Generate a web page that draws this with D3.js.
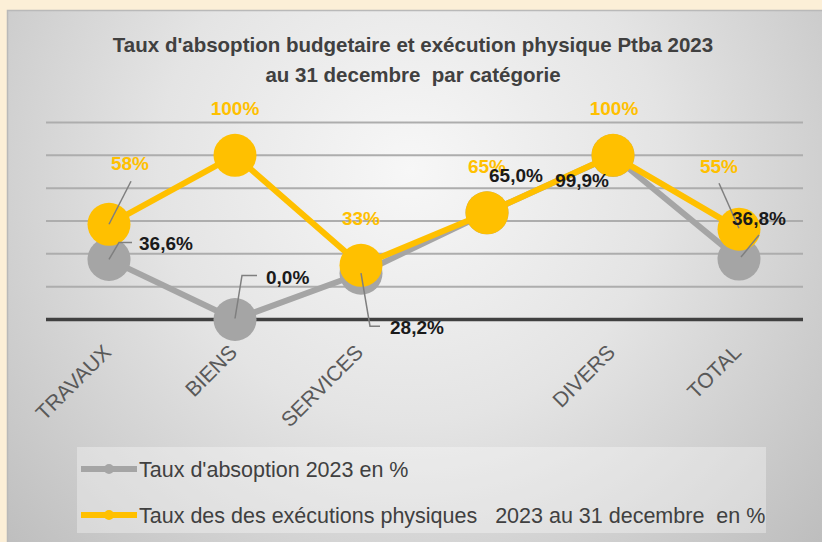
<!DOCTYPE html>
<html>
<head>
<meta charset="utf-8">
<script src="https://cdn.jsdelivr.net/npm/d3@7.9.0/dist/d3.min.js"></script>
<style>
  html, body { margin: 0; padding: 0; background: #fcefd7; overflow: hidden; }
  svg { display: block; }
  text { font-family: "Liberation Sans", Arial, sans-serif; }
</style>
</head>
<body>
<svg id="chart" width="822" height="542"></svg>
<script>
const categories = ['TRAVAUX', 'BIENS', 'SERVICES', '', 'DIVERS', 'TOTAL'];
const absorption = [36.6, 0.0, 28.2, 65.0, 99.9, 36.8];
const execution = [58, 100, 33, 65, 100, 55];
const absorptionLabels = ['36,6%', '0,0%', '28,2%', '65,0%', '99,9%', '36,8%'];
const executionLabels = ['58%', '100%', '33%', '65%', '100%', '55%'];
const yTicks = [0, 20, 40, 60, 80, 100, 120];
const seriesNames = [
  "Taux d'absoption 2023 en %",
  'Taux des des exécutions physiques   2023 au 31 decembre  en %'
];
const titleLines = [
  "Taux d'absoption budgetaire et exécution physique Ptba 2023",
  'au 31 decembre  par catégorie'
];

// where each data label sits relative to its point (Excel moved some by hand)
const execLabelPos = [[21, -54], [0, -40], [0, -40], [0, -40], [1, -40], [-20, -56]];
const execLeaders = [[[0, 0], [22, -43]], null, null, null, null, [[-20, -46], [0, -1]]];
const absLabelPos = [[30, -9, 'start'], [31, -36, 'start'], [29, 61, 'start'], [2, -31, 'start'], [-4, 32, 'end'], [-7, -34, 'start']];
const absLeaders = [
  [[0, 0], [10, -17], [23, -17]],
  [[0, -1], [7, -44], [22, -44]],
  [[0, 0], [9, 53], [19, 53]],
  null,
  null,
  [[2, -2], [20, -24]]
];

const grey = '#a5a5a5';
const gold = '#ffc000';

const svg = d3.select('#chart');

// panel background
const defs = svg.append('defs');
const grad = defs.append('radialGradient')
  .attr('id', 'panelGrad')
  .attr('gradientUnits', 'userSpaceOnUse')
  .attr('cx', 410).attr('cy', 170).attr('r', 560);
grad.append('stop').attr('offset', '0%').attr('stop-color', '#f7f7f7');
grad.append('stop').attr('offset', '45%').attr('stop-color', '#e4e4e4');
grad.append('stop').attr('offset', '100%').attr('stop-color', '#bdbdbd');

svg.append('rect')
  .attr('x', 7).attr('y', 10)
  .attr('width', 822).attr('height', 540)
  .attr('fill', 'url(#panelGrad)');
svg.append('path')
  .attr('d', 'M7.5,542V10.5H822')
  .attr('fill', 'none')
  .attr('stroke', '#b9b9b9')
  .attr('stroke-width', 1.5);

// title
svg.append('text')
  .attr('x', 413).attr('y', 52)
  .attr('text-anchor', 'middle')
  .attr('font-size', 20.5).attr('font-weight', 'bold')
  .attr('fill', '#404040')
  .selectAll('tspan')
  .data(titleLines)
  .join('tspan')
  .attr('x', 413)
  .attr('dy', (d, i) => (i === 0 ? 0 : 30))
  .style('white-space', 'pre')
  .text((d) => d);

const x = d3.scalePoint().domain(categories).range([46, 802]).padding(0.5);
const y = d3.scaleLinear().domain([0, 120]).range([319.5, 122.5]);

// gridlines
svg.append('g')
  .selectAll('line')
  .data(yTicks.filter((t) => t > 0))
  .join('line')
  .attr('x1', 46).attr('x2', 803)
  .attr('y1', (d) => y(d)).attr('y2', (d) => y(d))
  .attr('stroke', '#adadad')
  .attr('stroke-width', 2);

// category axis
const xAxis = svg.append('g')
  .attr('transform', `translate(0,${y(0)})`)
  .call(d3.axisBottom(x).tickSize(0).tickPadding(0));
xAxis.select('.domain')
  .attr('d', 'M46,0H803')
  .attr('stroke', '#404040')
  .attr('stroke-width', 3.5);
xAxis.selectAll('.tick text')
  .attr('font-size', 21)
  .attr('font-family', '"Liberation Sans", Arial, sans-serif')
  .attr('fill', '#595959')
  .attr('text-anchor', 'end')
  .attr('dy', 0)
  .attr('transform', 'translate(3,34) rotate(-45)');

const line = d3.line().x((d, i) => x(categories[i])).y((d) => y(d));

function drawSeries(values, color) {
  const g = svg.append('g');
  g.append('path')
    .datum(values)
    .attr('d', line)
    .attr('fill', 'none')
    .attr('stroke', color)
    .attr('stroke-width', 6)
    .attr('stroke-linejoin', 'round');
  g.selectAll('circle')
    .data(values)
    .join('circle')
    .attr('cx', (d, i) => x(categories[i]))
    .attr('cy', (d) => y(d))
    .attr('r', 21.5)
    .attr('fill', color);
}

drawSeries(absorption, grey);
drawSeries(execution, gold);

// leader lines
function drawLeaders(values, leaders) {
  svg.append('g')
    .selectAll('polyline')
    .data(values.map((v, i) => ({ v, i, pts: leaders[i] })).filter((d) => d.pts))
    .join('polyline')
    .attr('points', (d) => d.pts.map(([dx, dy]) => `${x(categories[d.i]) + dx},${y(d.v) + dy}`).join(' '))
    .attr('fill', 'none')
    .attr('stroke', '#7f7f7f')
    .attr('stroke-width', 1.5);
}
drawLeaders(execution, execLeaders);
drawLeaders(absorption, absLeaders);

// data labels
svg.append('g')
  .selectAll('text')
  .data(execution)
  .join('text')
  .attr('x', (d, i) => x(categories[i]) + execLabelPos[i][0])
  .attr('y', (d, i) => y(d) + execLabelPos[i][1])
  .attr('text-anchor', 'middle')
  .attr('font-size', 19).attr('font-weight', 'bold')
  .attr('fill', gold)
  .text((d, i) => executionLabels[i]);

svg.append('g')
  .selectAll('text')
  .data(absorption)
  .join('text')
  .attr('x', (d, i) => x(categories[i]) + absLabelPos[i][0])
  .attr('y', (d, i) => y(d) + absLabelPos[i][1])
  .attr('text-anchor', (d, i) => absLabelPos[i][2])
  .attr('font-size', 19).attr('font-weight', 'bold')
  .attr('fill', '#1a1a1a')
  .text((d, i) => absorptionLabels[i]);

// legend
const legend = svg.append('g');
legend.append('rect')
  .attr('x', 77).attr('y', 447)
  .attr('width', 689).attr('height', 86)
  .attr('fill', '#ffffff').attr('fill-opacity', 0.33);

const items = legend.selectAll('g.item')
  .data([{ name: seriesNames[0], color: grey }, { name: seriesNames[1], color: gold }])
  .join('g')
  .attr('class', 'item')
  .attr('transform', (d, i) => `translate(0,${469 + i * 46})`);
items.append('line')
  .attr('x1', 81).attr('x2', 137)
  .attr('stroke', (d) => d.color)
  .attr('stroke-width', 6);
items.append('circle')
  .attr('cx', 109).attr('r', 5)
  .attr('fill', (d) => d.color);
items.append('text')
  .attr('x', 139).attr('y', 7.5)
  .attr('font-size', 21.5)
  .attr('fill', '#404040')
  .style('white-space', 'pre')
  .text((d) => d.name);
</script>
</body>
</html>
